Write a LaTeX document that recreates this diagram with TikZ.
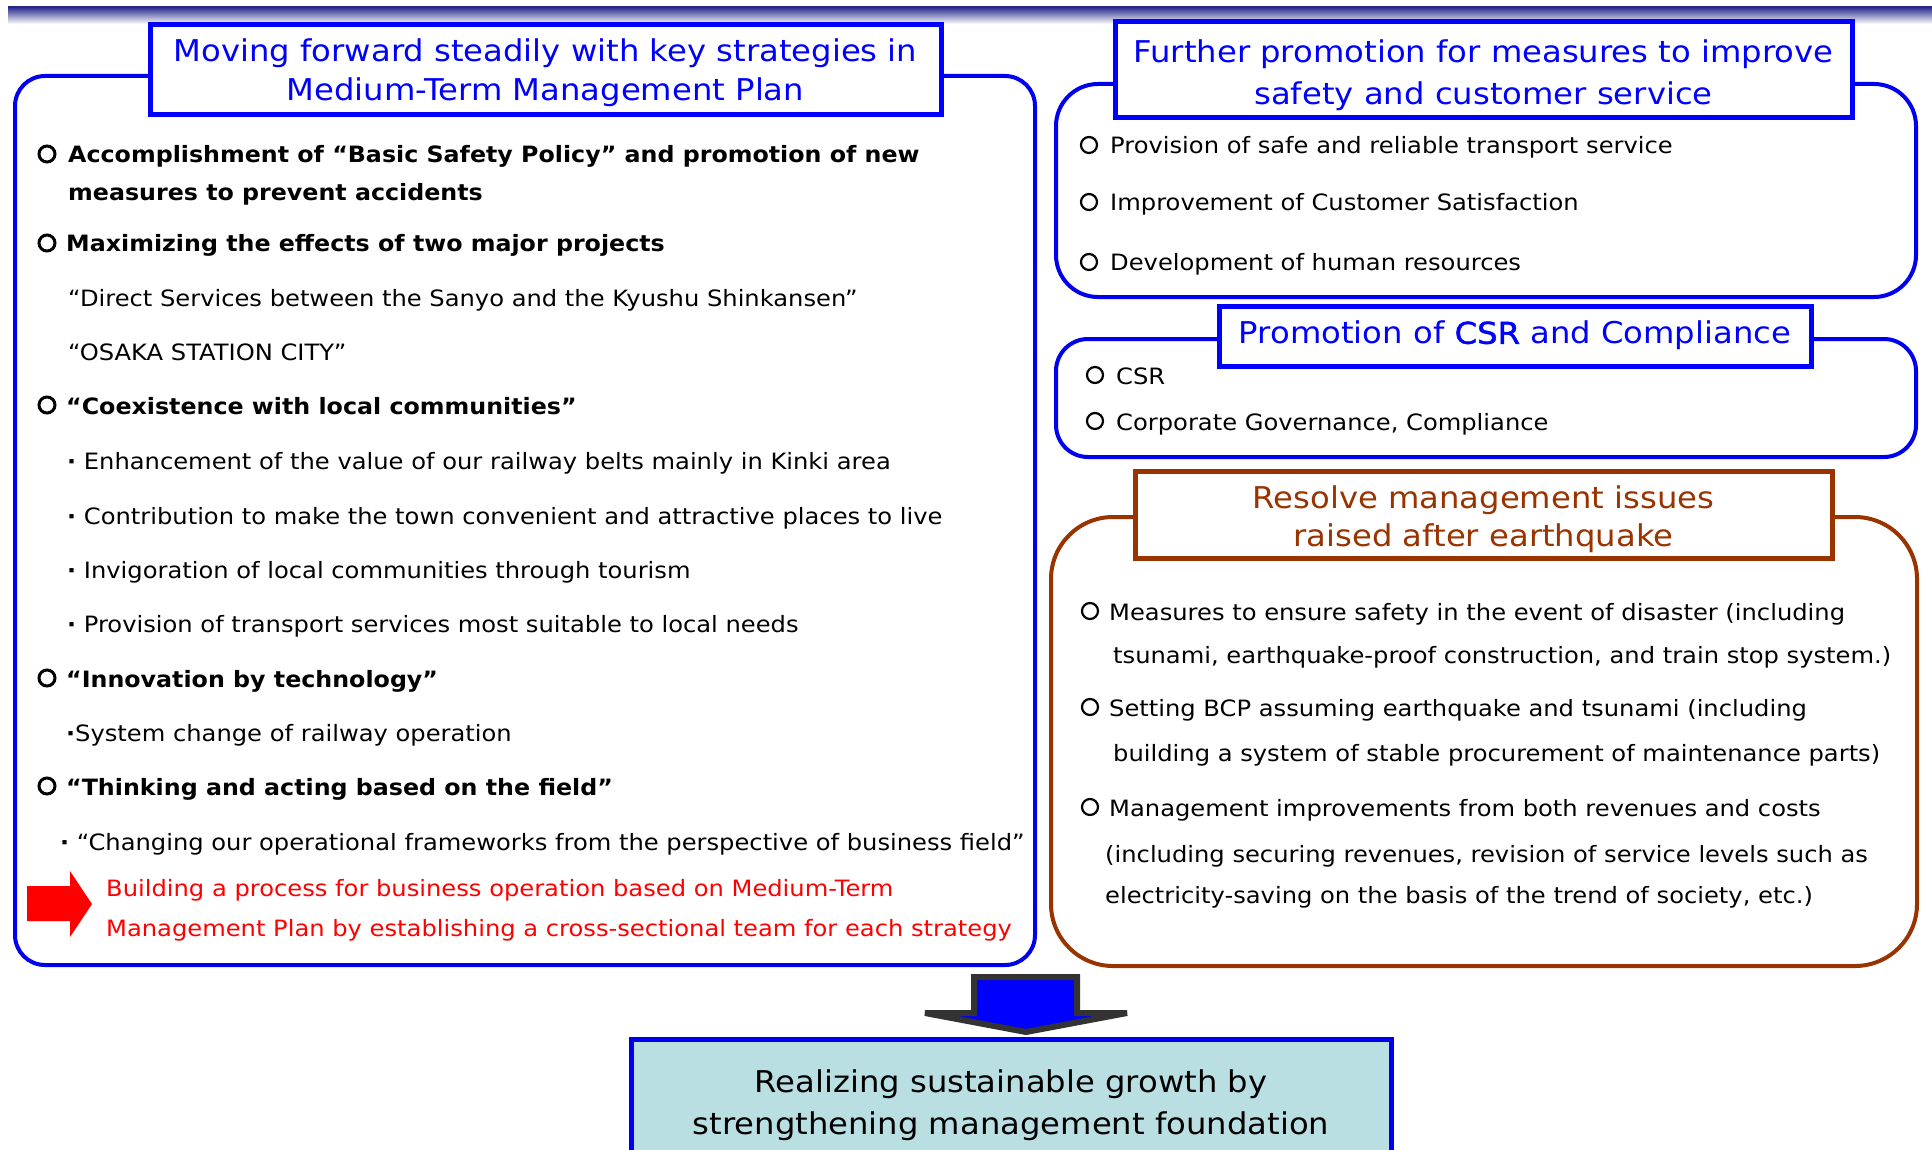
\documentclass[tikz,border=0pt]{standalone}
\usepackage{fontspec}
\setmainfont[FakeStretch=1.075, BoldFeatures={FakeStretch=1.055}]{DejaVu Sans}
\newfontfamily\semibold[FakeStretch=1.075, FakeBold=1.5]{DejaVu Sans}
\definecolor{frameblue}{RGB}{0,0,238}
\definecolor{titleblue}{RGB}{0,0,255}
\definecolor{quakebrown}{RGB}{153,51,0}
\definecolor{goalfill}{RGB}{185,223,227}
\definecolor{headnavy}{RGB}{40,40,140}
\definecolor{arrowgray}{RGB}{51,51,51}
\newcommand{\bodyfont}{\fontsize{22.5}{26}\selectfont}
\newcommand{\titlefont}{\fontsize{30}{39}\selectfont}
\tikzset{
  panel/.style={draw=frameblue, line width=4, rounded corners=30, inner sep=0, fill=white},
  titlebox/.style={draw=titleblue, line width=5, fill=white, inner sep=0},
  titletext/.style={align=center, text=titleblue, font=\titlefont, inner sep=0},
  txt/.style={anchor=base west, inner sep=0, font=\bodyfont},
  bold/.style={txt, font=\bodyfont\bfseries},
  ring/.style={draw, circle, minimum size=16, inner sep=0, line width=2.2},
  boldring/.style={ring, line width=3}
}
\begin{document}
\begin{tikzpicture}[x=1pt,y=-1pt]
\useasboundingbox (0,0) rectangle (1932,1150);

% header rule
\shade[top color=headnavy, bottom color=white] (8,7) rectangle (1932,24);
\draw[headnavy, line width=2] (8,7) -- (1932,7);

% ---------- left panel ----------
\node[panel, minimum width=1020, minimum height=889] (leftpanel) at (525,520.5) {};
\node[titlebox, minimum width=791, minimum height=90] (lefttitle) at (545.5,70) {};
\node[titletext] (lefttitletext) at (545.5,73)
  {Moving forward steadily with key strategies in\\Medium-Term Management Plan};

\node[boldring] (l1c) at (47,154) {};
\node[bold] (l1) at (68,163) {Accomplishment of “Basic Safety Policy” and promotion of new};
\node[bold] (l1b) at (68,201) {measures to prevent accidents};
\node[boldring] (l2c) at (47,243) {};
\node[bold] (l2) at (66,252) {Maximizing the effects of two major projects};
\node[txt] (l2a) at (68,306) {“Direct Services between the Sanyo and the Kyushu Shinkansen”};
\node[txt] (l2b) at (68,360) {“OSAKA STATION CITY”};
\node[boldring] (l3c) at (47,405) {};
\node[bold] (l3) at (66,414) {“Coexistence with local communities”};
\node[txt] (l3a) at (67,469) {\textbf{·} Enhancement of the value of our railway belts mainly in Kinki area};
\node[txt] (l3b) at (67,524) {\textbf{·} Contribution to make the town convenient and attractive places to live};
\node[txt] (l3c2) at (67,578) {\textbf{·} Invigoration of local communities through tourism};
\node[txt] (l3d) at (67,632) {\textbf{·} Provision of transport services most suitable to local needs};
\node[boldring] (l4c) at (47,678) {};
\node[bold] (l4) at (66,687) {“Innovation by technology”};
\node[txt] (l4a) at (66,741) {\textbf{·}System change of railway operation};
\node[boldring] (l5c) at (47,786) {};
\node[bold] (l5) at (66,795) {“Thinking and acting based on the field”};
\node[txt] (l5a) at (60,850) {\textbf{·} “Changing our operational frameworks from the perspective of business field”};

\fill[red] (27,886) -- (70,886) -- (70,871) -- (92,904) -- (70,937) -- (70,921) -- (27,921) -- cycle;
\node[txt, text=red] (r1) at (106,896) {Building a process for business operation based on Medium-Term};
\node[txt, text=red] (r2) at (106,936) {Management Plan by establishing a cross-sectional team for each strategy};

% ---------- safety and customer service ----------
\node[panel, rounded corners=42, minimum width=860, minimum height=213] (safepanel) at (1486,190.5) {};
\node[titlebox, minimum width=737, minimum height=96] (safetitle) at (1483.5,70) {};
\node[titletext, font=\fontsize{30}{42}\selectfont] (safetitletext) at (1483.5,75.5)
  {Further promotion for measures to improve\\safety and customer service};
\node[ring] (s1c) at (1089,145) {};
\node[txt] (s1) at (1110,154) {Provision of safe and reliable transport service};
\node[ring] (s2c) at (1089,202) {};
\node[txt] (s2) at (1110,211) {Improvement of Customer Satisfaction};
\node[ring] (s3c) at (1089,262) {};
\node[txt] (s3) at (1110,271) {Development of human resources};

% ---------- CSR and compliance ----------
\node[panel, rounded corners=32, minimum width=860, minimum height=118] (csrpanel) at (1486,398) {};
\node[titlebox, minimum width=592, minimum height=60] (csrtitle) at (1515,336) {};
\node[titletext] (csrtitletext) at (1515,335.5) {Promotion of {\semibold CSR} and Compliance};
\node[ring] (c1c) at (1095,375) {};
\node[txt] (c1) at (1116,384) {CSR};
\node[ring] (c2c) at (1095,421) {};
\node[txt] (c2) at (1116,430) {Corporate Governance, Compliance};

% ---------- earthquake issues ----------
\node[panel, draw=quakebrown, rounded corners=62, minimum width=866, minimum height=449] (quakepanel) at (1484,741.5) {};
\node[titlebox, draw=quakebrown, minimum width=697, minimum height=87] (quaketitle) at (1483.5,514.5) {};
\node[titletext, text=quakebrown, font=\fontsize{30}{38}\selectfont] (quaketitletext) at (1483.5,519.5)
  {Resolve management issues\\raised after earthquake};
\node[ring] (q1c) at (1090,611) {};
\node[txt] (q1) at (1109,620) {Measures to ensure safety in the event of disaster (including};
\node[txt] (q1b) at (1113,663) {tsunami, earthquake-proof construction, and train stop system.)};
\node[ring] (q2c) at (1090,707) {};
\node[txt] (q2) at (1109,716) {Setting BCP assuming earthquake and tsunami (including};
\node[txt] (q2b) at (1113,761) {building a system of stable procurement of maintenance parts)};
\node[ring] (q3c) at (1090,807) {};
\node[txt] (q3) at (1109,816) {Management improvements from both revenues and costs};
\node[txt] (q3b) at (1105,862) {(including securing revenues, revision of service levels such as};
\node[txt] (q3c2) at (1105,903) {electricity-saving on the basis of the trend of society, etc.)};

% ---------- result ----------
\node[draw=frameblue, line width=5, fill=goalfill, minimum width=760, minimum height=128, inner sep=0,
      anchor=north] (goal) at (1011,1037) {};
\node[align=center, font=\fontsize{30}{42}\selectfont, inner sep=0] (goaltext) at (1011,1105)
  {Realizing sustainable growth by\\strengthening management foundation};

\draw[arrowgray, line width=6, fill=blue, line join=miter, miter limit=3]
  (974,977) -- (1077,977) -- (1077,1013) -- (1127,1013) -- (1026,1032) -- (925,1013) -- (974,1013) -- cycle;
\end{tikzpicture}
\end{document}
